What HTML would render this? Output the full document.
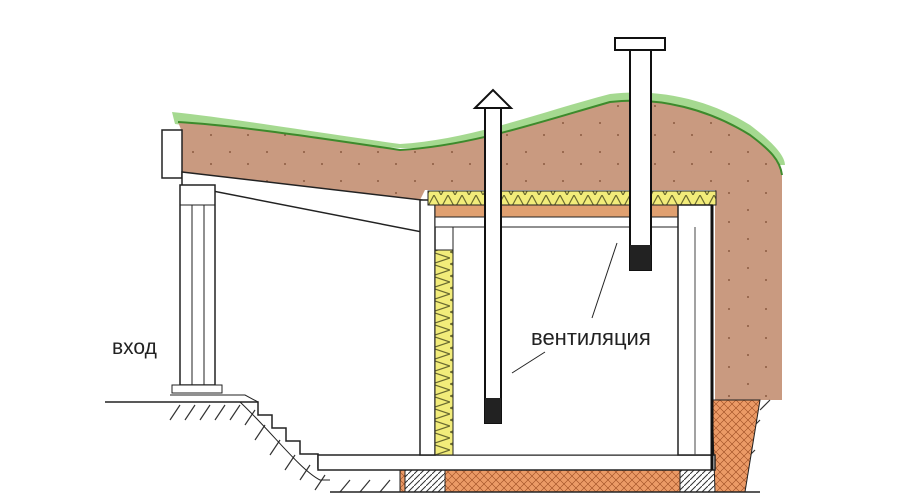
<!DOCTYPE html>
<html><head><meta charset="utf-8"><style>
html,body{margin:0;padding:0;background:#fff;}
svg{display:block;}
text{font-family:"Liberation Sans",sans-serif;}
</style></head><body>
<svg width="900" height="500" viewBox="0 0 900 500" xmlns="http://www.w3.org/2000/svg">
<defs>
<pattern id="zig" width="14" height="13" patternUnits="userSpaceOnUse">
<rect width="14" height="13" fill="#f2ec7a"/>
<path d="M0,0 L7,13 L14,0" fill="none" stroke="#6a6a30" stroke-width="1.2"/>
</pattern>
<pattern id="zigv" width="18" height="12" patternUnits="userSpaceOnUse">
<rect width="18" height="12" fill="#f2ec7a"/>
<path d="M0,0 L18,6 L0,12" fill="none" stroke="#6a6a30" stroke-width="1.2"/>
</pattern>
<pattern id="brick" width="8" height="8" patternUnits="userSpaceOnUse">
<rect width="8" height="8" fill="#eb9a66"/>
<path d="M0,8 L8,0 M0,0 L8,8" stroke="#9a4a20" stroke-width="0.6"/>
</pattern>
<pattern id="hatch" width="6" height="6" patternUnits="userSpaceOnUse">
<rect width="6" height="6" fill="#fff"/>
<path d="M0,6 L6,0" stroke="#333" stroke-width="1"/>
</pattern>
<pattern id="dots" width="37" height="29" patternUnits="userSpaceOnUse">
<rect width="37" height="29" fill="#c99a80"/>
<circle cx="8" cy="7" r="1" fill="#8a5a40"/>
<circle cx="26" cy="19" r="1" fill="#8a5a40"/>
</pattern>
</defs>
<path d="M172,112 C230,118 300,130 400,144 C470,140 540,112 610,94 C660,88 710,100 750,125 C770,140 785,155 785,165 L778,165 C740,140 700,115 650,104 C600,106 540,125 470,145 C400,155 300,140 175,124 Z" fill="#8fcf74" opacity="0.8"/>
<path d="M178,122 C230,125 300,135 400,150 C470,146 540,122 610,102 C660,96 710,110 750,135 C770,150 780,160 782,175 L782,400 L715,400 L715,190 L425,190 L420,200 L182,172 L182,132 Z" fill="url(#dots)"/>
<path d="M178,122 C230,125 300,135 400,150 C470,146 540,122 610,102 C660,96 710,110 750,135 C770,150 780,160 782,175" fill="none" stroke="#3d8a2c" stroke-width="2"/>
<rect x="162" y="130" width="20" height="48" fill="#fff" stroke="#222" stroke-width="1.5"/>
<path d="M182,172 L422,200 L422,232 L182,185 Z" fill="#fff" stroke="#222" stroke-width="1.5"/>
<rect x="180" y="185" width="35" height="200" fill="#fff" stroke="#222" stroke-width="1.5"/>
<line x1="192" y1="205" x2="192" y2="385" stroke="#222"/>
<line x1="204" y1="205" x2="204" y2="385" stroke="#222"/>
<line x1="180" y1="205" x2="215" y2="205" stroke="#222"/>
<rect x="172" y="385" width="50" height="8" fill="#fff" stroke="#222"/>
<path d="M105,402 L245,402 L258,402 L258,415 L272,415 L272,428 L286,428 L286,441 L300,441 L300,454 L318,454 L318,468 L330,468" fill="none" stroke="#222" stroke-width="1.5"/>
<path d="M170,395 L245,395 L258,402" fill="none" stroke="#222"/>
<g stroke="#333" stroke-width="1.2">
<path d="M170,420 L180,405 M185,420 L195,405 M200,420 L210,405 M215,420 L225,405 M230,420 L240,405 M245,425 L255,410 M255,440 L265,425 M270,455 L280,440 M285,470 L295,455 M300,480 L310,465 M315,490 L325,475 M340,492 L350,480 M360,492 L370,480 M380,492 L390,480 M720,410 L730,400 M740,410 L750,400 M760,410 L770,400 M750,430 L760,420 M745,460 L755,450"/>
</g>
<path d="M240,402 C270,430 300,470 320,480 L330,480" fill="none" stroke="#222"/>
<rect x="400" y="470" width="320" height="22" fill="url(#brick)" stroke="#222"/>
<rect x="405" y="470" width="40" height="22" fill="url(#hatch)" stroke="#222"/>
<rect x="680" y="470" width="35" height="22" fill="url(#hatch)" stroke="#222"/>
<path d="M712,400 L760,400 L745,492 L715,492 Z" fill="url(#brick)" stroke="#222"/>
<line x1="330" y1="492" x2="760" y2="492" stroke="#222" stroke-width="1.5"/>
<rect x="318" y="455" width="397" height="15" fill="#fff" stroke="#222" stroke-width="1.5"/>
<rect x="420" y="200" width="15" height="255" fill="#fff" stroke="#222" stroke-width="1.5"/>
<rect x="435" y="250" width="18" height="205" fill="url(#zigv)" stroke="#222"/>
<rect x="428" y="191" width="288" height="14" fill="url(#zig)" stroke="#222"/>
<rect x="435" y="205" width="255" height="12" fill="#e0a070" stroke="#222"/>
<rect x="435" y="217" width="255" height="10" fill="#fff" stroke="#222"/>
<rect x="453" y="227" width="225" height="228" fill="#fff" stroke="#222"/>
<rect x="678" y="205" width="34" height="250" fill="#fff" stroke="#222" stroke-width="1.5"/>
<line x1="695" y1="227" x2="695" y2="455" stroke="#444"/>
<line x1="712" y1="205" x2="712" y2="470" stroke="#111" stroke-width="3"/>
<rect x="485" y="108" width="16" height="315" fill="#fff" stroke="#111" stroke-width="2"/>
<rect x="485" y="398" width="16" height="25" fill="#222"/>
<path d="M475,108 L493,90 L511,108 Z" fill="#fff" stroke="#111" stroke-width="2"/>
<rect x="630" y="48" width="21" height="222" fill="#fff" stroke="#111" stroke-width="2"/>
<rect x="630" y="245" width="21" height="25" fill="#222"/>
<rect x="615" y="38" width="50" height="12" fill="#fff" stroke="#111" stroke-width="2"/>
<line x1="592" y1="318" x2="617" y2="243" stroke="#222"/>
<line x1="545" y1="352" x2="512" y2="373" stroke="#222"/>
<text x="531" y="345" font-size="22" fill="#222">вентиляция</text>
<text x="112" y="354" font-size="21" fill="#222">вход</text>
</svg>
</body></html>
